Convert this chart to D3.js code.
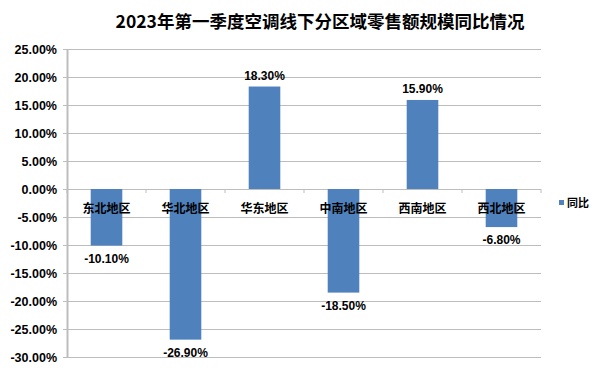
<!DOCTYPE html>
<html>
<head>
<meta charset="utf-8">
<script src="https://cdn.jsdelivr.net/npm/d3@7"></script>
<style>
  body { margin: 0; background: #fff; }
  svg text { font-family: "Liberation Sans", Arial, sans-serif; }
</style>
</head>
<body>
<div id="chart"></div>
<script>
// data
const regions = ['东北地区', '华北地区', '华东地区', '中南地区', '西南地区', '西北地区'];
const yoy = [-10.1, -26.9, 18.3, -18.5, 15.9, -6.8];
const yTicks = [25, 20, 15, 10, 5, 0, -5, -10, -15, -20, -25, -30];
const seriesName = '同比';
const title = '2023年第一季度空调线下分区域零售额规模同比情况';

const width = 600, height = 371;
const margins = {top: 49, right: 59, bottom: 14, left: 67};
const cjk = '"Noto Sans CJK SC", sans-serif';

const svg = d3.select('#chart').append('svg')
  .attr('width', width)
  .attr('height', height);

svg.append('text')
  .attr('x', 320)
  .attr('y', 28)
  .attr('text-anchor', 'middle')
  .style('font-family', cjk)
  .style('font-size', '17.5px')
  .style('font-weight', 'bold')
  .attr('fill', '#000')
  .text(title);

const x = d3.scaleBand()
  .domain(regions)
  .range([margins.left, width - margins.right])
  .paddingInner(0.6)
  .paddingOuter(0.3);

const y = d3.scaleLinear()
  .domain([-30, 25])
  .range([height - margins.bottom, margins.top]);

// gridlines
svg.append('g')
  .selectAll('line')
  .data(yTicks)
  .enter()
  .append('line')
  .attr('x1', margins.left - 4)
  .attr('x2', width - margins.right)
  .attr('y1', d => Math.round(y(d)) + 0.5)
  .attr('y2', d => Math.round(y(d)) + 0.5)
  .attr('stroke', '#bdbdbd')
  .attr('stroke-width', 1);

// y axis
const yAxis = svg.append('g')
  .attr('transform', `translate(${margins.left},0)`)
  .call(d3.axisLeft(y).tickValues(yTicks).tickSize(0).tickPadding(10)
    .tickFormat(d => d.toFixed(2) + '%'));
yAxis.select('.domain').attr('stroke', '#bdbdbd').attr('stroke-width', 2);
yAxis.selectAll('text')
  .style('font-size', '12.5px')
  .style('font-weight', 'bold')
  .attr('fill', '#000');

// bars
svg.append('g')
  .selectAll('rect')
  .data(yoy)
  .enter()
  .append('rect')
  .attr('x', (d, i) => x(regions[i]))
  .attr('width', x.bandwidth())
  .attr('y', d => y(Math.max(0, d)))
  .attr('height', d => Math.abs(y(d) - y(0)))
  .attr('fill', '#4f81bd');

// category ticks along the zero line, labels just below
const bandStep = x.step() / (1 - 0.6) * 0 + (x.range()[1] - x.range()[0]) / regions.length;
svg.append('g')
  .selectAll('line')
  .data(d3.range(regions.length + 1))
  .enter()
  .append('line')
  .attr('x1', i => margins.left + i * bandStep)
  .attr('x2', i => margins.left + i * bandStep)
  .attr('y1', y(0))
  .attr('y2', y(0) + 4)
  .attr('stroke', '#bdbdbd');

svg.append('g')
  .selectAll('text')
  .data(regions)
  .enter()
  .append('text')
  .attr('x', d => x(d) + x.bandwidth() / 2)
  .attr('y', y(0) + 24)
  .attr('text-anchor', 'middle')
  .style('font-family', cjk)
  .style('font-size', '12px')
  .style('font-weight', 'bold')
  .attr('fill', '#000')
  .text(d => d);

// value labels
svg.append('g')
  .selectAll('text')
  .data(yoy)
  .enter()
  .append('text')
  .attr('x', (d, i) => x(regions[i]) + x.bandwidth() / 2)
  .attr('y', d => d >= 0 ? y(d) - 7 : y(d) + 17)
  .attr('text-anchor', 'middle')
  .style('font-size', '12px')
  .style('font-weight', 'bold')
  .attr('fill', '#000')
  .text(d => d.toFixed(2) + '%');

// legend
const legend = svg.append('g').attr('transform', 'translate(559,200)');
legend.append('rect')
  .attr('width', 5)
  .attr('height', 5)
  .attr('fill', '#4f81bd');
legend.append('text')
  .attr('x', 8)
  .attr('y', 7)
  .style('font-family', cjk)
  .style('font-size', '11px')
  .style('font-weight', 'bold')
  .attr('fill', '#000')
  .text(seriesName);
</script>
</body>
</html>
